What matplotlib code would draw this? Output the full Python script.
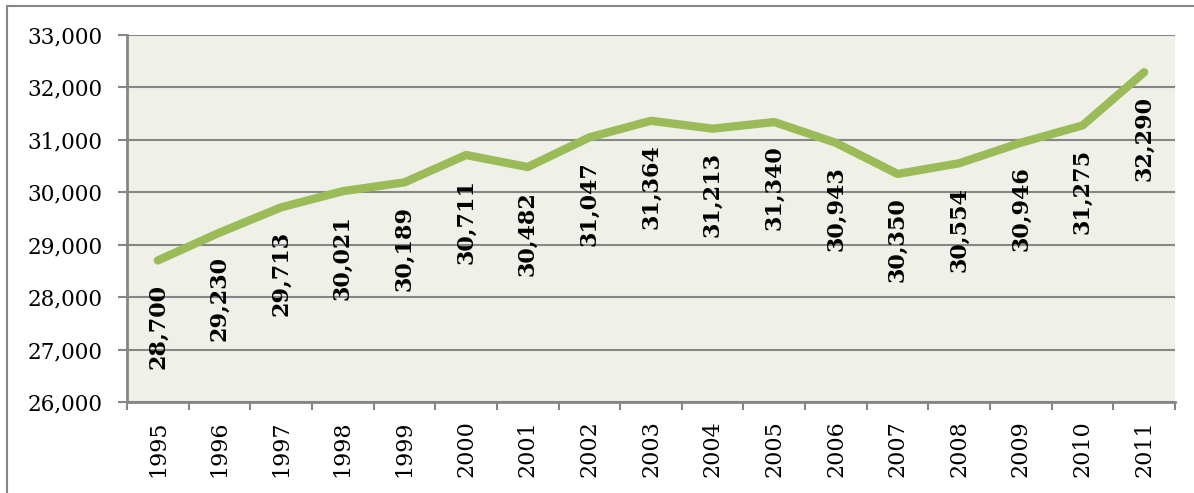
import numpy as np
import matplotlib.pyplot as plt
from matplotlib.patches import Rectangle

years = ['1995', '1996', '1997', '1998', '1999', '2000', '2001', '2002', '2003',
         '2004', '2005', '2006', '2007', '2008', '2009', '2010', '2011']
values = [28700, 29230, 29713, 30021, 30189, 30711, 30482, 31047, 31364,
          31213, 31340, 30943, 30350, 30554, 30946, 31275, 32290]

grey = '#868686'
fnt = 'DejaVu Serif'

fig = plt.figure(figsize=(11.94, 4.93), dpi=100)
# outer chart frame
fig.patches.append(Rectangle((7 / 1194, -0.1), 1.2, 1.1 - 6 / 493,
                             transform=fig.transFigure, fill=False,
                             edgecolor=grey, linewidth=1.5))

ax = fig.add_axes([127 / 1194, 1 - 402 / 493, (1175 - 127) / 1194, (402 - 35) / 493])
ax.set_facecolor('#eff1e9')

x = np.arange(len(years))
ax.plot(x, values, color='#9bbb59', linewidth=6, solid_capstyle='round',
        solid_joinstyle='round', zorder=3)

for xi, v in zip(x, values):
    ax.annotate(f'{v:,}', (xi, v), xytext=(0, -17), textcoords='offset points',
                rotation=90, ha='center', va='top', fontsize=16,
                fontweight='bold', family=fnt, zorder=4)

ax.set_xlim(-0.5, len(years) - 0.5)
ax.set_ylim(26000, 33000)
ax.set_yticks(np.arange(26000, 33001, 1000))
ax.set_yticklabels([f'{t:,}' for t in range(26000, 33001, 1000)],
                   family=fnt, fontsize=15.5)
ax.yaxis.grid(True, color=grey, linewidth=1.5)
ax.set_axisbelow(True)

ax.set_xticks(np.arange(-0.5, len(years), 1))
ax.set_xticklabels([])
ax.set_xticks(x, minor=True)
ax.set_xticklabels(years, minor=True, rotation=90, family=fnt, fontsize=16)
ax.tick_params(axis='x', which='minor', length=0, pad=13)
ax.tick_params(axis='x', which='major', length=6, width=1.5, color=grey)
ax.tick_params(axis='y', length=6.5, width=1.5, color=grey, pad=11)

for side in ['top', 'right']:
    ax.spines[side].set_visible(False)
for side in ['left', 'bottom']:
    ax.spines[side].set_color(grey)
    ax.spines[side].set_linewidth(2)

fig.savefig('out.png', dpi=100)
